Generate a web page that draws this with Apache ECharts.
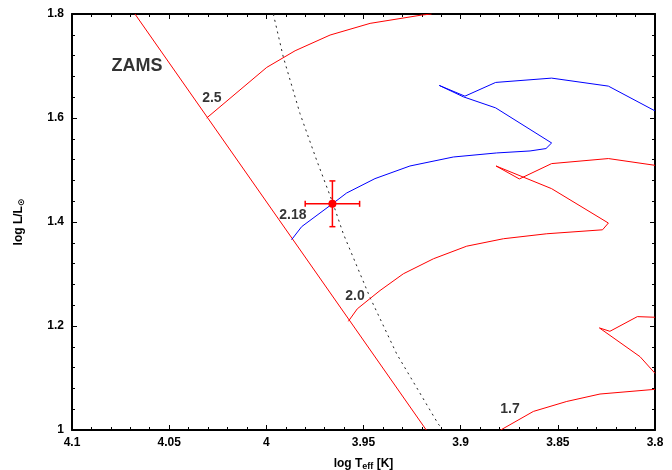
<!DOCTYPE html>
<html>
<head>
<meta charset="utf-8">
<title>HR diagram</title>
<script src="https://cdn.jsdelivr.net/npm/echarts@6/dist/echarts.min.js"></script>
<style>
  html, body { margin: 0; padding: 0; background: #fff; }
  #chart { width: 672px; height: 470px; }
</style>
</head>
<body>
<div id="chart"></div>
<script>
// axis ranges / ticks
var xMin = 3.8, xMax = 4.1, xStep = 0.05;
var yMin = 1.0, yMax = 1.8, yStep = 0.2;

// ZAMS line
var zams = [[4.0676, 1.8], [3.9177, 1.0]];

// evolutionary tracks (log Teff, log L)
var track25 = [[4.0307, 1.6], [3.9998, 1.6973], [3.9852, 1.7293], [3.9672, 1.7595],
  [3.9466, 1.782], [3.920, 1.798], [3.915, 1.8]];
var track218 = [[3.987, 1.366], [3.9818, 1.3911], [3.966, 1.435], [3.9587, 1.4557],
  [3.9441, 1.4834], [3.9261, 1.5077], [3.9038, 1.525], [3.8815, 1.5328],
  [3.8643, 1.5366], [3.8561, 1.5412], [3.8532, 1.552], [3.882, 1.6195],
  [3.8986, 1.6407], [3.911, 1.6626], [3.8978, 1.642], [3.882, 1.6684],
  [3.8532, 1.6767], [3.824, 1.6613], [3.8, 1.6137]];
var track20 = [[3.9578, 1.209], [3.9532, 1.233], [3.9415, 1.2682], [3.9295, 1.3004],
  [3.914, 1.3293], [3.8969, 1.3535], [3.878, 1.3678], [3.8557, 1.3774],
  [3.827, 1.385], [3.824, 1.398], [3.8532, 1.4641], [3.8818, 1.5077],
  [3.8698, 1.4828], [3.8532, 1.5123], [3.824, 1.522], [3.8, 1.509]];
var track19 = [[3.8, 1.109], [3.8077, 1.141], [3.8286, 1.1963], [3.8232, 1.1898],
  [3.8091, 1.218], [3.8, 1.2168]];
var track17 = [[3.8794, 1.0], [3.8626, 1.0357], [3.8454, 1.0549], [3.8283, 1.0692], [3.8, 1.0782]];

// dotted line
var dotted = [[3.9964, 1.8], [3.9913, 1.7177], [3.9827, 1.6087], [3.9741, 1.5187],
  [3.9657, 1.4358], [3.9604, 1.3775], [3.9467, 1.2553], [3.9329, 1.1462],
  [3.9115, 1.0113], [3.910, 1.005]];

// observed star: x, y, xerr, yerr
var star = [[3.966, 1.435, 0.014, 0.044]];

// text labels
var labelNames = ['ZAMS', '2.5', '2.18', '2.0', '1.7'];
var labelPos = [[4.0666, 1.7], [4.028, 1.638], [3.9863, 1.4127], [3.9544, 1.2567], [3.8746, 1.0408]];
var labelSize = [18, 14, 14, 14, 14];

var fontFam = 'Liberation Sans, Arial, sans-serif';

function fmt(v) { return String(+v.toFixed(2)); }

function axisBase(extra) {
  var a = {
    type: 'value',
    axisLine: { show: true, lineStyle: { color: '#000', width: 2 } },
    axisTick: { show: true, inside: true, length: 5, lineStyle: { color: '#000', width: 1 } },
    minorTick: { show: true, splitNumber: 5, length: 3, lineStyle: { color: '#000', width: 1 } },
    splitLine: { show: false },
    minorSplitLine: { show: false }
  };
  for (var k in extra) a[k] = extra[k];
  return a;
}

var chart = echarts.init(document.getElementById('chart'));

var lineSeries = function (data, color, extra) {
  var s = {
    type: 'line', data: data, showSymbol: false, symbol: 'none',
    lineStyle: { color: color, width: 1 }, animation: false, silent: true,
    xAxisIndex: 0, yAxisIndex: 0, z: 3
  };
  for (var k in extra) s[k] = extra[k];
  return s;
};

var option = {
  animation: false,
  backgroundColor: '#fff',
  grid: { left: 72, right: 17, top: 14, bottom: 40, containLabel: false, outerBoundsMode: 'none' },
  xAxis: [
    axisBase({
      min: xMin, max: xMax, interval: xStep, inverse: true, position: 'bottom',
      axisLabel: { formatter: fmt, color: '#000', fontFamily: fontFam, fontWeight: 'bold', fontSize: 12, margin: 7 },
      name: '{a|log T}{b|eff}{a| [K]}',
      nameLocation: 'middle', nameGap: 26,
      nameTextStyle: {
        rich: {
          a: { fontFamily: fontFam, fontWeight: 'bold', fontSize: 12, color: '#000' },
          b: { fontFamily: fontFam, fontWeight: 'bold', fontSize: 9, color: '#000', padding: [6, 0, 0, 0] }
        }
      }
    }),
    axisBase({
      min: xMin, max: xMax, interval: xStep, inverse: true, position: 'top',
      axisLabel: { show: false }
    })
  ],
  yAxis: [
    axisBase({
      min: yMin, max: yMax, interval: yStep, position: 'left',
      axisLabel: { formatter: fmt, color: '#000', fontFamily: fontFam, fontWeight: 'bold', fontSize: 12, margin: 8 },
      name: '{a|log L/L}{b|⊙}',
      nameLocation: 'middle', nameGap: 46,
      nameTextStyle: {
        rich: {
          a: { fontFamily: fontFam, fontWeight: 'bold', fontSize: 12, color: '#000' },
          b: { fontFamily: 'DejaVu Sans, sans-serif', fontWeight: 'bold', fontSize: 9, color: '#000', padding: [6, 0, 0, 0] }
        }
      }
    }),
    axisBase({
      min: yMin, max: yMax, interval: yStep, position: 'right',
      axisLabel: { show: false }
    })
  ],
  series: [
    lineSeries(zams, '#ff0000'),
    lineSeries(track25, '#ff0000'),
    lineSeries(track218, '#0000ff'),
    lineSeries(track20, '#ff0000'),
    lineSeries(track19, '#ff0000'),
    lineSeries(track17, '#ff0000'),
    lineSeries(dotted, '#222', { lineStyle: { color: '#222', width: 1, type: [2, 4] }, z: 2 }),
    {
      type: 'custom',
      xAxisIndex: 0, yAxisIndex: 0,
      data: star,
      z: 5,
      renderItem: function (params, api) {
        var x = api.value(0), y = api.value(1), ex = api.value(2), ey = api.value(3);
        var c = api.coord([x, y]);
        var l = api.coord([x + ex, y]);
        var r = api.coord([x - ex, y]);
        var t = api.coord([x, y + ey]);
        var b = api.coord([x, y - ey]);
        var st = { stroke: '#ff0000', lineWidth: 1.5 };
        var cap = 3;
        return {
          type: 'group',
          children: [
            { type: 'line', shape: { x1: l[0], y1: l[1], x2: r[0], y2: r[1] }, style: st },
            { type: 'line', shape: { x1: t[0], y1: t[1], x2: b[0], y2: b[1] }, style: st },
            { type: 'line', shape: { x1: l[0], y1: l[1] - cap, x2: l[0], y2: l[1] + cap }, style: st },
            { type: 'line', shape: { x1: r[0], y1: r[1] - cap, x2: r[0], y2: r[1] + cap }, style: st },
            { type: 'line', shape: { x1: t[0] - cap, y1: t[1], x2: t[0] + cap, y2: t[1] }, style: st },
            { type: 'line', shape: { x1: b[0] - cap, y1: b[1], x2: b[0] + cap, y2: b[1] }, style: st },
            { type: 'circle', shape: { cx: c[0], cy: c[1], r: 4 }, style: { fill: '#ff0000' } }
          ]
        };
      }
    },
    {
      type: 'scatter',
      xAxisIndex: 0, yAxisIndex: 0,
      symbolSize: 0,
      silent: true,
      z: 6,
      data: labelNames.map(function (n, i) {
        return {
          name: n, value: labelPos[i],
          label: { fontSize: labelSize[i] }
        };
      }),
      label: {
        show: true, position: 'inside', formatter: '{b}',
        color: '#000', fontFamily: fontFam, fontWeight: 'bold',
        textBorderWidth: 0
      }
    }
  ]
};

chart.setOption(option);
</script>
</body>
</html>
